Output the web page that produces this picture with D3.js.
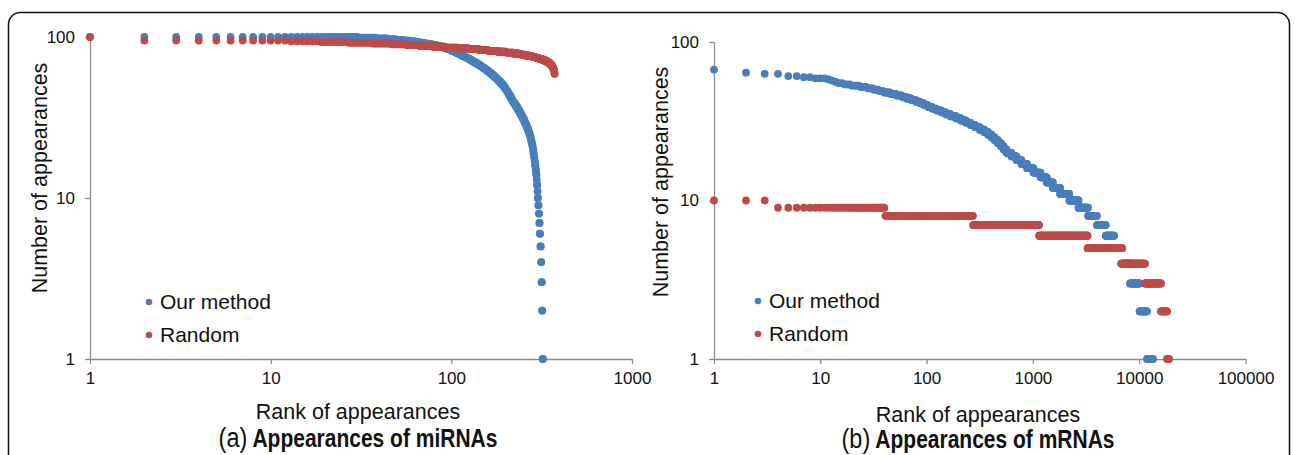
<!DOCTYPE html>
<html>
<head>
<meta charset="utf-8">
<script src="https://cdn.jsdelivr.net/npm/d3@7/dist/d3.min.js"></script>
<style>
  body { margin: 0; background: #fff; }
  text { font-family: "Liberation Sans", Arial, sans-serif; fill: #111; }
</style>
</head>
<body>
<svg id="chart" width="1295" height="455"></svg>
<script>
// ---- data: sorted appearance counts stored as runs (value, last rank having that value)

// (a) miRNAs, our method
const miOursValues = [100, 99, 98, 97, 96, 95, 94, 93, 92, 91, 90, 89, 88, 87, 86, 85, 84, 83, 82, 81,
    80, 79, 78, 77, 76, 75, 74, 73, 72, 71, 70, 69, 68, 67, 66, 65, 64, 63, 62, 61,
    60, 59, 58, 57, 56, 55, 54, 53, 52, 51, 50, 49, 48, 47, 46, 45, 44, 43, 42, 41,
    40, 39, 38, 37, 36, 35, 34, 33, 32, 31, 30, 29, 28, 27, 26, 25, 24, 23, 22, 21,
    20, 19, 18, 17, 16, 15, 14, 13, 12, 11, 10, 9, 8, 7, 6, 5, 4, 3, 2, 1];
const miOursLastRank = [30, 38, 44, 49, 54, 59, 63, 67, 71, 75, 79, 83, 86, 89, 92, 95, 98, 100, 103, 105,
    108, 110, 113, 115, 118, 121, 124, 127, 129, 132, 135, 138, 141, 144, 147, 150, 153, 156, 159, 162,
    165, 168, 171, 174, 177, 180, 183, 186, 189, 192, 195, 197, 200, 202, 205, 207, 210, 212, 215, 217,
    220, 224, 227, 231, 234, 238, 241, 245, 248, 252, 255, 259, 262, 266, 269, 272, 275, 277, 280, 282,
    284, 286, 288, 290, 292, 294, 296, 297, 299, 300, 302, 304, 306, 308, 310, 313, 315, 317, 319, 322];

// (a) miRNAs, random
const miRandValues = [100, 95, 94, 93, 92, 91, 90, 89, 88, 87, 86, 85, 84, 83, 82, 81, 80, 79, 78,
    77, 76, 75, 74, 73, 72, 71, 70, 69, 68, 67, 66, 65, 64, 63, 62, 61, 60, 59];
const miRandLastRank = [1, 12, 18, 26, 36, 46, 56, 66, 78, 92, 108, 125, 142, 160, 180, 200, 218, 235, 250,
    265, 280, 294, 306, 318, 328, 337, 344, 350, 355, 359, 362, 365, 367, 369, 370, 371, 372, 373];

// (b) mRNAs, our method
const mOursValues = [67, 64, 63, 61, 60, 59, 58, 57, 56, 55, 54, 53, 52, 51, 50, 49, 48, 47, 46, 45,
    44, 43, 42, 41, 40, 39, 38, 37, 36, 35, 34, 33, 32, 31, 30, 29, 28, 27, 26, 25,
    24, 23, 22, 21, 20, 19, 18, 17, 16, 15, 14, 13, 12, 11, 10, 9, 8, 7, 6, 5, 4, 3, 2, 1];
const mOursLastRank = [1, 2, 4, 6, 8, 11, 12, 13, 14, 16, 19, 23, 27, 31, 35, 39, 45, 51, 58, 64,
    71, 79, 86, 94, 102, 112, 123, 137, 151, 167, 188, 210, 233, 258, 285, 315, 348, 378, 408, 437,
    468, 500, 530, 565, 625, 700, 780, 880, 1010, 1180, 1350, 1540, 1800, 2200, 2680, 3300, 4000, 4840, 5800, 6750,
    8200, 10070, 11840, 13490];

// (b) mRNAs, random
const mRandValues = [10, 9, 8, 7, 6, 5, 4, 3, 2, 1];
const mRandLastRank = [3, 40, 273, 1141, 3264, 6920, 11340, 16000, 18300, 19100];

const seriesNames = ["Our method", "Random"];
const seriesColors = ["#4a7ebb", "#be4b48"];
const yTicks = [1, 10, 100];

// ---- helpers
function expandRuns(values, lastRanks) {
    const pts = [];
    let start = 1;
    values.forEach((v, i) => {
        for (let r = start; r <= lastRanks[i]; r++) pts.push({ rank: r, value: v, run: i });
        start = lastRanks[i] + 1;
    });
    return pts;
}

// drop points that would sit on top of each other (< 0.4px apart in the same run)
function thin(pts, x) {
    const out = [];
    let last = null;
    pts.forEach((p, i) => {
        const px = x(p.rank);
        const next = pts[i + 1];
        const endOfRun = !next || next.run !== p.run;
        if (!last || last.run !== p.run || px - last.px >= 0.4 || endOfRun) {
            last = { px: px, run: p.run };
            out.push(p);
        }
    });
    return out;
}

const svg = d3.select("#chart");

// rounded frame
svg.append("rect")
    .attr("x", 8.5).attr("y", 12.5)
    .attr("width", 1281).attr("height", 470)
    .attr("rx", 12)
    .attr("fill", "none")
    .attr("stroke", "#111")
    .attr("stroke-width", 1.5);

function panel(cfg) {
    const x = d3.scaleLog().domain(cfg.xDomain).range(cfg.xRange);
    const y = d3.scaleLog().domain([1, 100]).range(cfg.yRange);
    const g = svg.append("g");

    const yAxis = g.append("g")
        .attr("transform", `translate(${cfg.xRange[0]},0)`)
        .call(d3.axisLeft(y).tickValues(yTicks).tickFormat(d3.format("d")).tickSize(5).tickSizeOuter(0).tickPadding(10));
    const xAxis = g.append("g")
        .attr("transform", `translate(0,${cfg.yRange[0]})`)
        .call(d3.axisBottom(x).tickValues(cfg.xTicks).tickFormat(d3.format("d")).tickSize(5).tickSizeOuter(0).tickPadding(8));
    [xAxis, yAxis].forEach(a => {
        a.select(".domain").attr("stroke", "#8c8c8c").attr("stroke-width", 1.3);
        a.selectAll(".tick line").attr("stroke", "#8c8c8c").attr("stroke-width", 1.3);
        a.selectAll(".tick text").attr("font-size", 17).attr("fill", "#111")
            .style("font-family", '"Liberation Sans", Arial, sans-serif');
    });

    cfg.series.forEach((s, i) => {
        const pts = thin(expandRuns(s.values, s.lastRanks), x);
        g.append("g").selectAll("circle")
            .data(pts)
            .join("circle")
            .attr("cx", d => x(d.rank))
            .attr("cy", d => y(d.value))
            .attr("r", 3.9)
            .attr("fill", seriesColors[i]);
    });

    // axis titles
    g.append("text")
        .attr("transform", `translate(${cfg.yTitleX},${cfg.yTitleY}) rotate(-90)`)
        .attr("text-anchor", "middle")
        .attr("font-size", 21.5)
        .text("Number of appearances");
    g.append("text")
        .attr("x", cfg.xTitleX).attr("y", cfg.xTitleY)
        .attr("text-anchor", "middle")
        .attr("font-size", 21.5)
        .text("Rank of appearances");

    // legend
    seriesNames.forEach((name, i) => {
        const ly = cfg.legendY + i * 33;
        g.append("circle")
            .attr("cx", cfg.legendX).attr("cy", ly)
            .attr("r", 3.3)
            .attr("fill", seriesColors[i]);
        g.append("text")
            .attr("x", cfg.legendX + 11).attr("y", ly + 7)
            .attr("font-size", 21)
            .text(name);
    });

    // caption, narrowed to mimic a condensed face
    const cap = g.append("text")
        .attr("transform", `translate(${cfg.xTitleX},${cfg.captionY}) scale(0.84,1)`)
        .attr("text-anchor", "middle");
    cap.append("tspan").attr("font-size", 28).text(cfg.letter);
    cap.append("tspan").attr("font-size", 25).attr("font-weight", "bold").text(" " + cfg.caption);
}

panel({
    xDomain: [1, 1000], xRange: [90, 632], yRange: [359, 37],
    xTicks: [1, 10, 100, 1000],
    series: [
        { values: miOursValues, lastRanks: miOursLastRank },
        { values: miRandValues, lastRanks: miRandLastRank }
    ],
    yTitleX: 47, yTitleY: 178,
    xTitleX: 358, xTitleY: 419,
    legendX: 149, legendY: 302,
    captionY: 447, letter: "(a)", caption: "Appearances of miRNAs"
});

panel({
    xDomain: [1, 100000], xRange: [714, 1245.5], yRange: [359, 42],
    xTicks: [1, 10, 100, 1000, 10000, 100000],
    series: [
        { values: mOursValues, lastRanks: mOursLastRank },
        { values: mRandValues, lastRanks: mRandLastRank }
    ],
    yTitleX: 668, yTitleY: 182,
    xTitleX: 978, xTitleY: 422,
    legendX: 758, legendY: 301,
    captionY: 448, letter: "(b)", caption: "Appearances of mRNAs"
});
</script>
</body>
</html>
